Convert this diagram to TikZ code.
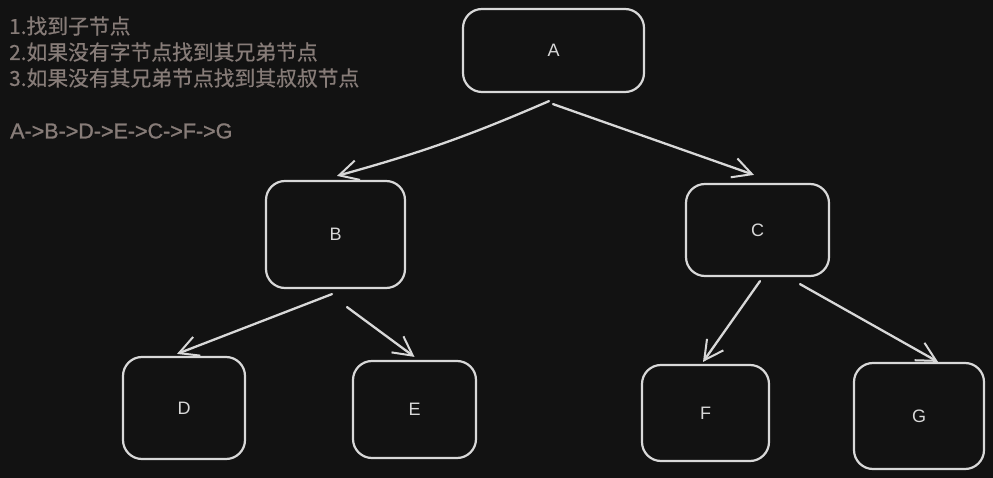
\documentclass[tikz,border=0pt]{standalone}
\usepackage{fontspec}
\usetikzlibrary{arrows.meta,calc}
\newfontfamily\cjkfont[FakeBold=0.6]{Noto Sans CJK SC}
\newfontfamily\labfont{Liberation Sans}
\newfontfamily\orderfont[FakeBold=1.2]{Liberation Sans}
\definecolor{bg}{HTML}{121212}
\definecolor{ink}{HTML}{D8D8D8}
\definecolor{note}{HTML}{877C78}
\begin{document}
\begin{tikzpicture}[x=1pt,y=-1pt,
  treebox/.style={draw=ink, line width=2.2pt, rounded corners=19pt,
    inner sep=0pt, text=ink, font=\labfont\fontsize{18}{18}\selectfont},
  link/.style={draw=ink, line width=2.3pt, line cap=round,
    -{Straight Barb[length=19pt,width=20pt,line width=2pt]}},
  notetext/.style={anchor=west, inner sep=0pt, text=note,
    font=\cjkfont\fontsize{20.8}{20.8}\selectfont}]
  % canvas
  \fill[bg] (0,0) rectangle (993,478);
  \useasboundingbox (0,0) rectangle (993,478);

  % traversal notes
  \node[notetext] (t1) at (9,26) {1.找到子节点};
  \node[notetext] (t2) at (9,52) {2.如果没有字节点找到其兄弟节点};
  \node[notetext] (t3) at (9,78) {3.如果没有其兄弟节点找到其叔叔节点};
  \node[anchor=west, inner sep=0pt, text=note,
        font=\orderfont\fontsize{21.5}{21.5}\selectfont] (order) at (10,131) {A->B->D->E->C->F->G};

  % tree nodes
  \node[treebox, minimum width=181pt, minimum height=83pt] (A) at (553.5,50.5) {A};
  \node[treebox, minimum width=139pt, minimum height=107pt] (B) at (335.5,234.5) {B};
  \node[treebox, minimum width=143pt, minimum height=92pt] (C) at (757.5,230) {C};
  \node[treebox, minimum width=122pt, minimum height=102pt] (D) at (184,408) {D};
  \node[treebox, minimum width=123pt, minimum height=97pt] (E) at (414.5,409.5) {E};
  \node[treebox, minimum width=127pt, minimum height=96pt] (F) at (705.5,413) {F};
  \node[treebox, minimum width=130pt, minimum height=106pt] (G) at (919,416) {G};

  % edges
  \draw[link] ($(A.south)+(-4.5,8)$) to[bend left=4] ($(B.north)+(1.5,-4)$);
  \draw[link] ($(A.south)+(-0.5,11)$) -- ($(C.north)+(-3.5,-8)$);
  \draw[link] ($(B.south)+(-3.5,5)$) -- ($(D.north)+(-7,-2)$);
  \draw[link] ($(B.south)+(11.5,18)$) -- ($(E.north)+(0,-3)$);
  \draw[link] ($(C.south)+(2.5,4)$) -- ($(F.north)+(-2.5,-2)$);
  \draw[link] ($(C.south)+(42.5,7)$) -- ($(G.north)+(19,0)$);
\end{tikzpicture}
\end{document}
